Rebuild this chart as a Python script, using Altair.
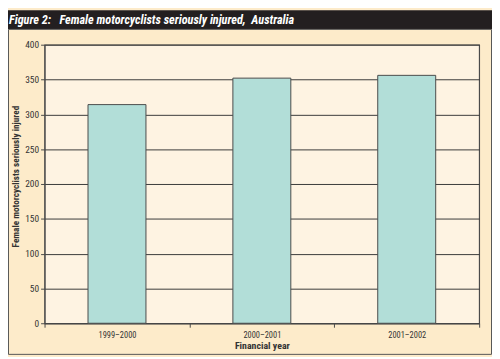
import altair as alt
import pandas as pd

years = ["1999–2000", "2000–2001", "2001–2002"]
injured = [314, 352, 356]
y_ticks = [0, 50, 100, 150, 200, 250, 300, 350, 400]
fig_title = "Figure 2:\u00a0\u00a0\u00a0Female motorcyclists seriously injured,\u00a0\u00a0Australia"

df = pd.DataFrame({"year": years, "injured": injured})

NARROW = "'Liberation Sans Narrow', 'Roboto Condensed', 'DejaVu Sans Condensed', sans-serif"

W, H = 440, 282
PAD = {"left": 37, "top": 35, "right": 13, "bottom": 32}

bars = alt.Chart(df).mark_bar(
    width=alt.RelativeBandSize(0.4),
    fill="#b2ded8",
    stroke="#4a4a4a",
    strokeWidth=1,
).encode(
    x=alt.X(
        "year:N",
        sort=years,
        scale=alt.Scale(paddingInner=0, paddingOuter=0),
        axis=alt.Axis(
            title="Financial year",
            labelAngle=0,
            labelFont=NARROW,
            labelFontSize=8.5,
            labelColor="#333333",
            labelPadding=3,
            tickBand="extent",
            tickSize=4,
            tickColor="#4a4a4a",
            domainColor="#4a4a4a",
            titleFont=NARROW,
            titleFontSize=10,
            titleFontWeight="bold",
            titleColor="#333333",
            titlePadding=2,
        ),
    ),
    y=alt.Y(
        "injured:Q",
        scale=alt.Scale(domain=[0, 400], nice=False),
        axis=alt.Axis(
            title="Female motorcyclists seriously injured",
            values=y_ticks,
            grid=True,
            gridColor="#3a3a3a",
            gridWidth=1,
            labelFont=NARROW,
            labelFontSize=9.5,
            labelColor="#333333",
            labelPadding=2,
            tickSize=4,
            tickColor="#4a4a4a",
            domainColor="#4a4a4a",
            titleFont=NARROW,
            titleFontSize=9.3,
            titleFontWeight="bold",
            titleColor="#333333",
            titleX=-24,
            titleY=133,
        ),
    ),
)

one = alt.Data(values=[{"t": fig_title}])

title_bar = alt.Chart(one).mark_rect(color="#231f20").encode(
    x=alt.value(-37), x2=alt.value(W + 13), y=alt.value(-35), y2=alt.value(-16)
)

title_text = alt.Chart(one).mark_text(
    align="left",
    baseline="alphabetic",
    color="white",
    font=NARROW,
    fontSize=12.4,
    fontStyle="italic",
    fontWeight="bold",
).encode(
    x=alt.value(-36), y=alt.value(-21), text="t:N"
)

frame = alt.Chart(one).mark_rect(fill=None, stroke="#555555", strokeWidth=1).encode(
    x=alt.value(-36.5), x2=alt.value(W + 12.5), y=alt.value(-15.5), y2=alt.value(H + 31.5)
)

chart = alt.layer(title_bar, frame, bars, title_text).properties(
    width=W,
    height=H,
    padding=PAD,
    autosize=alt.AutoSizeParams(type="none"),
    background="#fdebca",
).configure_view(
    fill="#fef3e2",
    stroke="#4a4a4a",
    strokeWidth=1.2,
)

chart.save("out.html", embed_options={"renderer": "svg", "actions": False})
